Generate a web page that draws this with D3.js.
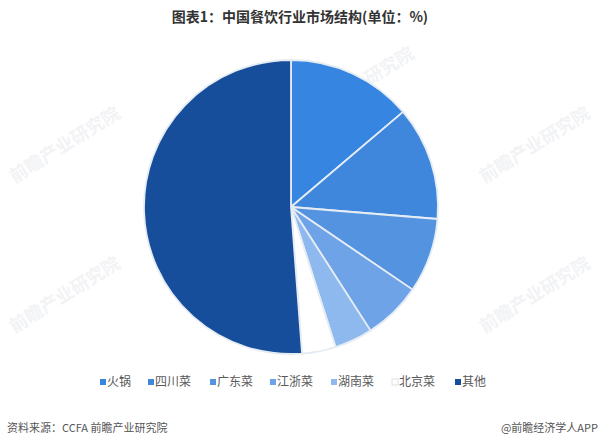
<!DOCTYPE html>
<html>
<head>
<meta charset="utf-8">
<script src="https://cdn.jsdelivr.net/npm/d3@7"></script>
<style>
  html, body { margin: 0; padding: 0; background: #fff; }
  svg { display: block; font-family: "Noto Sans CJK SC", "Noto Sans", sans-serif; }
</style>
</head>
<body>
<svg id="chart" width="600" height="446"></svg>
<script>
const categories = ["火锅", "四川菜", "广东菜", "江浙菜", "湖南菜", "北京菜", "其他"];
const values = [13.8, 12.5, 8.2, 6.4, 4.2, 3.7, 51.2];
const colors = ["#3585E1", "#3F87DC", "#5393E0", "#6EA3E7", "#8EB9EF", "#FFFFFF", "#164E9B"];
const titleText = "图表1：中国餐饮行业市场结构(单位：%)";
const sourceText = "资料来源：CCFA 前瞻产业研究院";
const creditText = "@前瞻经济学人APP";
const watermarkText = "前瞻产业研究院";

const svg = d3.select("#chart");
const W = 600, H = 446;

// watermarks
const wmPos = [[68, 150], [538, 150], [68, 300], [538, 300], [362, 90], [362, 250]];
svg.append("g").selectAll("text").data(wmPos).join("text")
  .attr("transform", d => `translate(${d[0]},${d[1]}) rotate(-32)`)
  .attr("text-anchor", "middle")
  .attr("font-size", 18)
  .attr("font-weight", "bold")
  .attr("fill", "#f2f3f5")
  .text(watermarkText);

// title
svg.append("text")
  .attr("x", W / 2).attr("y", 22)
  .attr("text-anchor", "middle")
  .attr("font-size", 14)
  .attr("font-weight", "bold")
  .attr("fill", "#333")
  .text(titleText);

// pie
const cx = 291, cy = 207, R = 147;
const data = categories.map((c, i) => ({ name: c, value: values[i], color: colors[i] }));
const pie = d3.pie().sort(null).value(d => d.value).startAngle(0).endAngle(2 * Math.PI);
const arc = d3.arc().innerRadius(0).outerRadius(R);
const g = svg.append("g").attr("transform", `translate(${cx},${cy})`);
g.selectAll("path").data(pie(data)).join("path")
  .attr("d", arc)
  .attr("fill", d => d.data.color)
  .attr("stroke", "#e6ecf4")
  .attr("stroke-width", 1.8)
  .attr("stroke-linejoin", "round");

// legend
const legendX = [100, 148, 210, 270, 331, 392, 455];
const lg = svg.append("g");
const items = lg.selectAll("g").data(data).join("g")
  .attr("transform", (d, i) => `translate(${legendX[i]},382)`);
items.append("rect")
  .attr("x", 0).attr("y", -3)
  .attr("width", 6).attr("height", 6)
  .attr("fill", d => d.color)
  .attr("stroke", d => d.color === "#FFFFFF" ? "#d9d9d9" : "none")
  .attr("stroke-width", 0.8);
items.append("text")
  .attr("x", 7).attr("y", 0)
  .attr("dy", "0.36em")
  .attr("font-size", 12)
  .attr("fill", "#595959")
  .text(d => d.name);

// footer
svg.append("text")
  .attr("x", 7).attr("y", 432)
  .attr("font-size", 11)
  .attr("fill", "#555")
  .text(sourceText);
svg.append("text")
  .attr("x", 598).attr("y", 432)
  .attr("text-anchor", "end")
  .attr("font-size", 11)
  .attr("fill", "#555")
  .text(creditText);
</script>
</body>
</html>
